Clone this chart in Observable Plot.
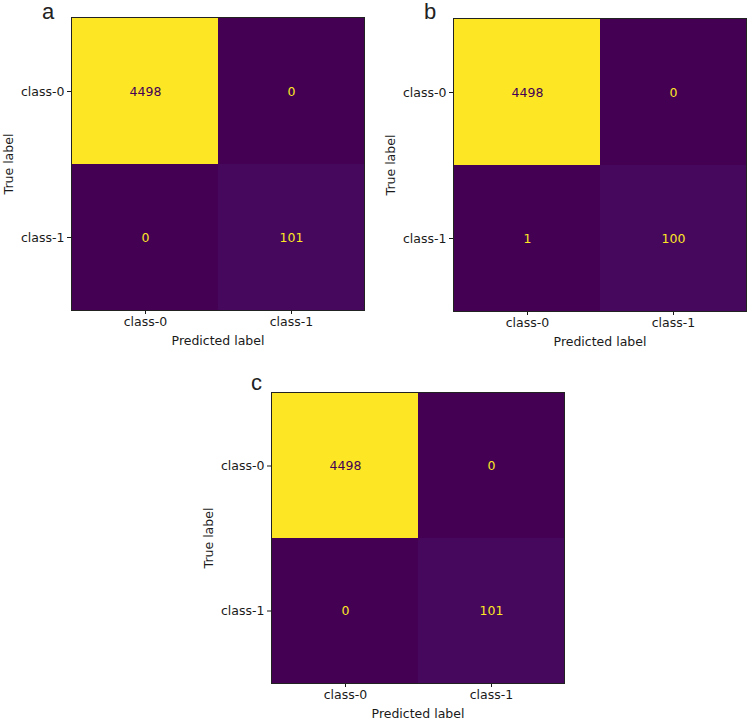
<!DOCTYPE html>
<html>
<head>
<meta charset="utf-8">
<script src="https://cdn.jsdelivr.net/npm/d3@7"></script>
<script src="https://cdn.jsdelivr.net/npm/@observablehq/plot@0.6"></script>
<style>
  html, body { margin: 0; padding: 0; background: white; }
  #page { position: relative; width: 752px; height: 721px; overflow: hidden; background: white; }
  .panel { position: absolute; }
  .letter { position: absolute; font-family: "Liberation Sans", Arial, sans-serif; font-size: 22px; line-height: 22px; color: #222; }
</style>
</head>
<body>
<div id="page"></div>
<script>
const classes = ["class-0", "class-1"];
const valuesA = [[4498, 0], [0, 101]];
const valuesB = [[4498, 0], [1, 100]];
const valuesC = [[4498, 0], [0, 101]];
const panelLabels = ["a", "b", "c"];
const axisLabelX = "Predicted label";
const axisLabelY = "True label";

function confusion(values, opts) {
  const data = [];
  classes.forEach((t, i) => classes.forEach((p, j) => data.push({t, p, value: values[i][j]})));
  const min = d3.min(data, d => d.value), max = d3.max(data, d => d.value);
  const thr = (min + max) / 2;
  return Plot.plot({
    width: opts.width,
    height: opts.height,
    marginLeft: 71,
    marginTop: 17,
    marginRight: opts.marginRight,
    marginBottom: opts.marginBottom,
    style: {fontFamily: "'DejaVu Sans', sans-serif", fontSize: "12.5px", color: "#1a1a1a", background: "white", overflow: "visible"},
    x: {domain: classes, padding: 0, label: axisLabelX, labelAnchor: "center", labelArrow: "none", tickSize: 4, tickPadding: 3, labelOffset: 34},
    y: {domain: classes, padding: 0, label: axisLabelY, labelAnchor: "center", labelArrow: "none", tickSize: 4, tickPadding: 3, labelOffset: 67},
    color: {type: "linear", scheme: "viridis", domain: [min, max]},
    marks: [
      Plot.cell(data, {x: "p", y: "t", fill: "value"}),
      Plot.text(data.filter(d => d.value > thr), {x: "p", y: "t", text: d => String(d.value), fill: "#440154", fontSize: 12.5}),
      Plot.text(data.filter(d => d.value <= thr), {x: "p", y: "t", text: d => String(d.value), fill: "#fde725", fontSize: 12.5}),
      Plot.frame({stroke: "#222", strokeWidth: 1})
    ]
  });
}

const page = document.getElementById("page");
const panels = [
  {values: valuesA, left: 0, top: 0, width: 376, height: 360, marginRight: 12, marginBottom: 50, letter: panelLabels[0], lx: 42, ly: 1},
  {values: valuesB, left: 382, top: 1, width: 370, height: 360, marginRight: 6, marginBottom: 50, letter: panelLabels[1], lx: 424, ly: 1},
  {values: valuesC, left: 200, top: 375, width: 376, height: 346, marginRight: 12, marginBottom: 38, letter: panelLabels[2], lx: 251, ly: 372}
];
for (const p of panels) {
  const div = document.createElement("div");
  div.className = "panel";
  div.style.left = p.left + "px";
  div.style.top = p.top + "px";
  div.appendChild(confusion(p.values, p));
  page.appendChild(div);
  const l = document.createElement("div");
  l.className = "letter";
  l.style.left = p.lx + "px";
  l.style.top = p.ly + "px";
  l.textContent = p.letter;
  page.appendChild(l);
}
</script>
</body>
</html>
